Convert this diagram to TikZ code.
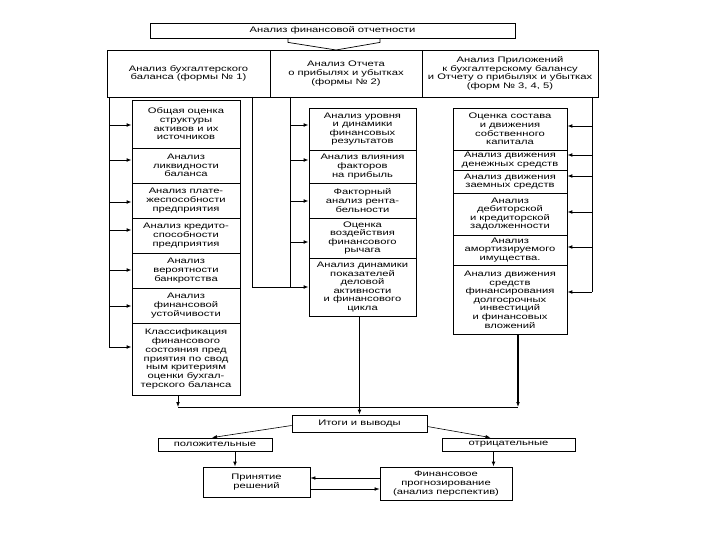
\documentclass[tikz,border=0pt]{standalone}
\usepackage{fontspec}
\setmainfont{Liberation Sans}[FakeStretch=1.4]
\usetikzlibrary{arrows.meta}
\tikzset{
  box/.style={draw=black, line width=0.8pt, align=center, inner sep=0pt,
    font=\fontsize{8}{8.6}\selectfont},
  bus/.style={draw=black, line width=1pt},
  arr/.style={draw=black, line width=0.9pt, -{Latex[length=5pt,width=3.8pt]}},
  thin/.style={draw=black, line width=0.6pt, -{Latex[length=5pt,width=3.6pt]}},
}
\begin{document}
\begin{tikzpicture}[x=1pt,y=-1pt]
\path[use as bounding box, fill=white] (0,0) rectangle (720,540);

% top
\node[box, minimum width=365pt, minimum height=15pt] (top) at (332.5,30.5) {Анализ финансовой отчетности};

% header row
\node[box, minimum width=163pt, minimum height=47pt] (h1) at (188.5,73.5) {Анализ бухгалтерского\\баланса (формы № 1)};
\node[box, minimum width=152pt, minimum height=47pt] (h2) at (346,73.5) {Анализ Отчета\\о прибылях и убытках\\(формы № 2)};
\node[box, minimum width=176pt, minimum height=47pt] (h3) at (510,73.5) {Анализ Приложений\\к бухгалтерскому балансу\\и Отчету о прибылях и убытках\\(форм № 3, 4, 5)};

% funnel
\coordinate (apex) at (336,50);
\draw[bus, line width=0.7pt] ([xshift=-44.5pt]top.south) -- ++(0,4) -- (apex);
\draw[bus, line width=0.7pt] ([xshift=47.5pt]top.south) -- ++(0,4) -- (apex);

% left column
\node[box, minimum width=108pt, minimum height=48pt] (l1) at (186,124) {Общая оценка\\структуры\\активов и их\\источников};
\node[box, minimum width=108pt, minimum height=35pt] (l2) at (186,165.5) {Анализ\\ликвидности\\баланса};
\node[box, minimum width=108pt, minimum height=35pt] (l3) at (186,200.5) {Анализ плате-\\жеспособности\\предприятия};
\node[box, minimum width=108pt, minimum height=35pt] (l4) at (186,235.5) {Анализ кредито-\\способности\\предприятия};
\node[box, minimum width=108pt, minimum height=35pt] (l5) at (186,270.5) {Анализ\\вероятности\\банкротства};
\node[box, minimum width=108pt, minimum height=35pt] (l6) at (186,305.5) {Анализ\\финансовой\\устойчивости};
\node[box, minimum width=108pt, minimum height=72pt, font=\fontsize{8}{8.8}\selectfont] (l7) at (186,359) {Классификация\\финансового\\состояния пред\\приятия по свод\\ным критериям\\оценки бухгал-\\терского баланса};

\coordinate (lb) at (109,97);
\draw[bus] (lb) -- (lb |- 0,347);
\draw[arr] (lb |- 0,125) -- (l1.west |- 0,125);
\draw[arr] (lb |- 0,160) -- (l2.west |- 0,160);
\draw[arr] (lb |- 0,202) -- (l3.west |- 0,202);
\draw[arr] (lb |- 0,230) -- (l4.west |- 0,230);
\draw[arr] (lb |- 0,270) -- (l5.west |- 0,270);
\draw[arr] (lb |- 0,306) -- (l6.west |- 0,306);
\draw[arr] (lb |- 0,347) -- (l7.west |- 0,347);

% middle column
\node[box, minimum width=107pt, minimum height=42pt] (m1) at (362.5,129) {Анализ уровня\\и динамики\\финансовых\\результатов};
\node[box, minimum width=107pt, minimum height=33pt] (m2) at (362.5,166.5) {Анализ влияния\\факторов\\на прибыль};
\node[box, minimum width=107pt, minimum height=35pt] (m3) at (362.5,200.5) {Факторный\\анализ рента-\\бельности};
\node[box, minimum width=107pt, minimum height=40pt] (m4) at (362.5,238) {Оценка\\воздействия\\финансового\\рычага};
\node[box, minimum width=107pt, minimum height=58pt] (m5) at (362.5,287) {Анализ динамики\\показателей\\деловой\\активности\\и финансового\\цикла};

\coordinate (mb) at (290,97);
\coordinate (mb2) at (252,97);
\draw[bus] (mb) -- (mb |- 0,287);
\draw[bus] (mb2) -- (mb2 |- 0,287) -- (mb |- 0,287);
\draw[arr] (mb |- 0,125) -- (m1.west |- 0,125);
\draw[arr] (mb |- 0,160) -- (m2.west |- 0,160);
\draw[arr] (mb |- 0,201) -- (m3.west |- 0,201);
\draw[arr] (mb |- 0,242) -- (m4.west |- 0,242);
\draw[arr] (mb |- 0,287) -- (m5.west |- 0,287);

% right column
\node[box, minimum width=114pt, minimum height=42pt] (p1) at (510,129) {Оценка состава\\и движения\\собственного\\капитала};
\node[box, minimum width=114pt, minimum height=20pt] (p2) at (510,160) {Анализ движения\\денежных средств};
\node[box, minimum width=114pt, minimum height=23pt] (p3) at (510,181.5) {Анализ движения\\заемных средств};
\node[box, minimum width=114pt, minimum height=42pt] (p4) at (510,214) {Анализ\\дебиторской\\и кредиторской\\задолженности};
\node[box, minimum width=114pt, minimum height=30pt] (p5) at (510,250) {Анализ\\амортизируемого\\имущества.};
\node[box, minimum width=114pt, minimum height=69pt] (p6) at (510,299.5) {Анализ движения\\средств\\финансирования\\долгосрочных\\инвестиций\\и финансовых\\вложений};

\coordinate (rb) at (592,97);
\draw[bus] (rb) -- (rb |- 0,292);
\draw[arr] (rb |- 0,126) -- (p1.east |- 0,126);
\draw[arr] (rb |- 0,155) -- (p2.east |- 0,155);
\draw[arr] (rb |- 0,176) -- (p3.east |- 0,176);
\draw[arr] (rb |- 0,212) -- (p4.east |- 0,212);
\draw[arr] (rb |- 0,247) -- (p5.east |- 0,247);
\draw[arr] (rb |- 0,292) -- (p6.east |- 0,292);

% bottom
\node[box, minimum width=135pt, minimum height=17pt] (it) at (359.5,423.5) {Итоги и выводы};
\node[box, minimum width=114pt, minimum height=13pt] (poz) at (215,444.5) {положительные};
\node[box, minimum width=133pt, minimum height=13pt] (neg) at (508.5,444.5) {отрицательные};
\node[box, minimum width=107pt, minimum height=30pt] (pr) at (256.5,482) {Принятие\\решений};
\node[box, minimum width=132pt, minimum height=33pt] (fin) at (446,483.5) {Финансовое\\прогнозирование\\(анализ перспектив)};

\coordinate (bl) at (178,407);
\coordinate (br) at (518,407);
\draw[bus] (bl) -- (br);
\draw[arr] (l7.south -| bl) -- (bl);
\draw[arr, line width=1.3pt] (m5.south -| it.north) -- (it.north);
\draw[arr, line width=1.3pt] (p6.south -| br) -- (br);

\draw[thin] ([yshift=-2pt]it.west) -- ([xshift=-3pt]poz.north);
\draw[thin] ([yshift=-3pt]it.east) -- ([xshift=-18pt]neg.north);
\draw[arr] ([xshift=20pt]poz.south) -- ([xshift=20pt]poz.south |- pr.north);
\draw[arr] ([xshift=-15pt]neg.south) -- ([xshift=-15pt]neg.south |- fin.north);
\draw[thin] (fin.west |- 0,478) -- (pr.east |- 0,478);
\draw[thin] (pr.east |- 0,489) -- (fin.west |- 0,489);
\end{tikzpicture}
\end{document}
